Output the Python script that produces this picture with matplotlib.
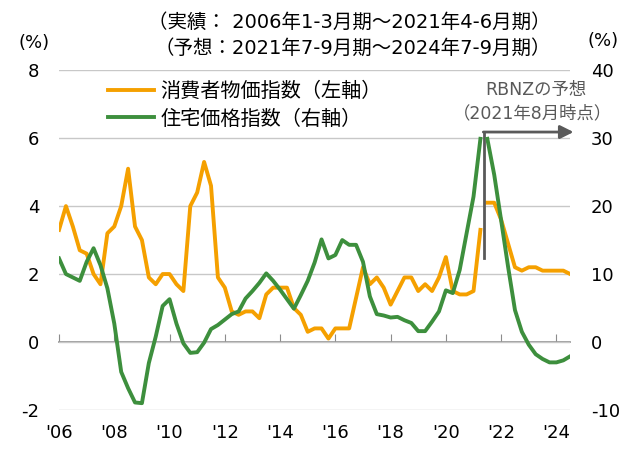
import numpy as np
import matplotlib
matplotlib.use("Agg")
from matplotlib import pyplot as plt

plt.rcParams['font.family'] = ['DejaVu Sans', 'Noto Sans CJK JP']
plt.rcParams['axes.unicode_minus'] = False

# quarterly, 2006Q1 .. 2024Q3 (actual up to 2021Q2, RBNZ forecast after)
cpi_actual = [3.3, 4.0, 3.4, 2.7, 2.6, 2.0, 1.7, 3.2, 3.4, 4.0, 5.1, 3.4,
              3.0, 1.9, 1.7, 2.0, 2.0, 1.7, 1.5, 4.0, 4.4, 5.3, 4.6, 1.9,
              1.6, 0.9, 0.8, 0.9, 0.9, 0.7, 1.4, 1.6, 1.6, 1.6, 1.0, 0.8,
              0.3, 0.4, 0.4, 0.1, 0.4, 0.4, 0.4, 1.3, 2.2, 1.7, 1.9, 1.6,
              1.1, 1.5, 1.9, 1.9, 1.5, 1.7, 1.5, 1.9, 2.5, 1.5, 1.4, 1.4,
              1.5, 3.3]
cpi_forecast = [4.1, 4.1, 3.6, 2.9, 2.2, 2.1, 2.2, 2.2, 2.1, 2.1, 2.1, 2.1, 2.0]

house_actual = [12.3, 10.0, 9.5, 9.0, 11.8, 13.8, 11.3, 7.9, 2.7, -4.4, -6.8, -8.9,
                -9.0, -3.1, 0.8, 5.3, 6.3, 2.7, -0.2, -1.6, -1.5, -0.1, 1.9, 2.5,
                3.3, 4.1, 4.5, 6.4, 7.5, 8.7, 10.1, 9.0, 7.7, 6.3, 4.9, 6.9,
                9.0, 11.7, 15.1, 12.3, 12.8, 15.0, 14.3, 14.3, 11.8, 6.7, 4.1, 3.9,
                3.6, 3.7, 3.2, 2.8, 1.6, 1.6, 3.0, 4.5, 7.6, 7.2, 10.6, 16.0,
                21.4, 29.9]
house_forecast = [29.9, 24.6, 17.9, 11.1, 4.7, 1.5, -0.4, -1.8, -2.5, -3.0, -3.0, -2.7, -2.1]

year_ticks = list(range(2006, 2025, 2))
year_labels = ["'06", "'08", "'10", "'12", "'14", "'16", "'18", "'20", "'22", "'24"]

t_actual = 2006 + np.arange(len(cpi_actual)) / 4
t_forecast = 2006 + (len(cpi_actual) + np.arange(len(cpi_forecast))) / 4

orange = '#F5A000'
green = '#3D8F3D'
grey = '#595959'

fig = plt.figure(figsize=(6.28, 4.5), dpi=100)
ax = fig.add_axes([0.094, 0.089, 0.814, 0.755])
ax2 = ax.twinx()

ax.plot(t_actual, cpi_actual, color=orange, lw=2.8, label='消費者物価指数（左軸）', zorder=3)
ax.plot(t_forecast, cpi_forecast, color=orange, lw=2.8, zorder=3)
ax2.plot(t_actual, house_actual, color=green, lw=2.8, label='住宅価格指数（右軸）', zorder=3)
ax2.plot(t_forecast, house_forecast, color=green, lw=2.8, zorder=3)

ax.set_xlim(2006, 2024.5)
ax.set_ylim(-2, 8)
ax2.set_ylim(-10, 40)
ax.set_yticks([-2, 0, 2, 4, 6, 8])
ax2.set_yticks([-10, 0, 10, 20, 30, 40])
ax.set_xticks(year_ticks)
ax.set_xticklabels(year_labels)

for a in (ax, ax2):
    for s in a.spines.values():
        s.set_visible(False)
ax.grid(axis='y', color='#c8c8c8', lw=1)
ax.tick_params(axis='y', length=0, labelsize=13, pad=14)
ax2.tick_params(axis='y', length=0, labelsize=13, pad=15)
ax.tick_params(axis='x', length=0, labelsize=13, pad=10)

# zero axis with tick marks
sec = ax.secondary_xaxis(0.2)
sec.set_xticks(year_ticks)
sec.tick_params(direction='in', length=6, color='#8c8c8c', labelbottom=False)
sec.spines['bottom'].set_color('#8c8c8c')
sec.spines['bottom'].set_linewidth(1.2)

# forecast marker
xs = (t_actual[-1] + t_forecast[0]) / 2
ax.plot([xs, xs], [2.47, 6.18], color=grey, lw=2, zorder=4)
ax.annotate('', xy=(2024.62, 6.18), xytext=(xs - 0.02, 6.18),
            arrowprops=dict(arrowstyle='-|>,head_length=0.8,head_width=0.4',
                            color=grey, lw=2, shrinkA=0, shrinkB=0),
            annotation_clip=False, zorder=4)
ax.text(2023.25, 7.42, 'RBNZの予想', color=grey, fontsize=12.5, ha='center', va='center')
ax.text(2023.15, 6.72, '（2021年8月時点）', color=grey, fontsize=12.5, ha='center', va='center')

h1, l1 = ax.get_legend_handles_labels()
h2, l2 = ax2.get_legend_handles_labels()
ax.legend(h1 + h2, l1 + l2, loc='upper left', bbox_to_anchor=(0.06, 1.02),
          frameon=False, fontsize=14.5, handlelength=2.3, labelspacing=0.42,
          handletextpad=0.3)

fig.text(0.055, 0.905, '(%)', fontsize=13, ha='center', va='center')
fig.text(0.96, 0.91, '(%)', fontsize=13, ha='center', va='center')
fig.text(0.877, 0.95, '（実績： 2006年1-3月期～2021年4-6月期）', fontsize=14, ha='right', va='center')
fig.text(0.877, 0.893, '（予想：2021年7-9月期～2024年7-9月期）', fontsize=14, ha='right', va='center')

fig.savefig('out.png', dpi=100)
